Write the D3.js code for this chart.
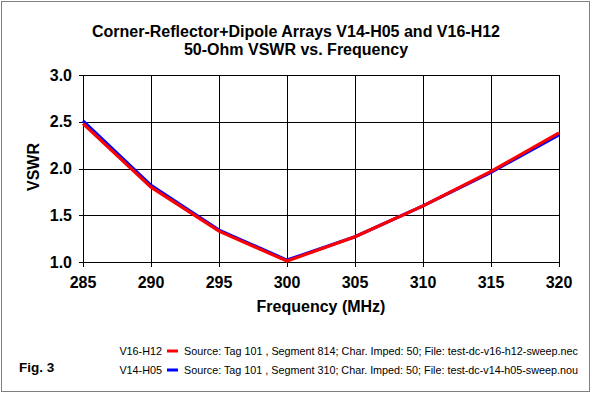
<!DOCTYPE html>
<html><head><meta charset="utf-8">
<script src="https://cdn.jsdelivr.net/npm/d3@7"></script>
<style>html,body{margin:0;padding:0;background:#fff;}svg{display:block;}</style>
</head><body>
<script>
const freqs = [285, 290, 295, 300, 305, 310, 315, 320];
const vswrV16H12 = [2.48, 1.80, 1.33, 1.01, 1.27, 1.60, 1.97, 2.38];
const vswrV14H05 = [2.51, 1.82, 1.34, 1.02, 1.27, 1.60, 1.96, 2.36];
const xTicks = [285, 290, 295, 300, 305, 310, 315, 320];
const yTicks = [1.0, 1.5, 2.0, 2.5, 3.0];
const titleLines = ["Corner-Reflector+Dipole Arrays V14-H05 and V16-H12", "50-Ohm VSWR vs. Frequency"];
const seriesNames = ["V16-H12", "V14-H05"];
const seriesColors = ["#ff0000", "#0000ff"];
const seriesSources = [
  "Source: Tag 101 , Segment 814; Char. Imped: 50; File: test-dc-v16-h12-sweep.nec",
  "Source: Tag 101 , Segment 310; Char. Imped: 50; File: test-dc-v14-h05-sweep.nou"
];

const W = 592, H = 394;
const svg = d3.select("body").append("svg").attr("width", W).attr("height", H)
  .style("font-family", "'Liberation Sans', Arial, sans-serif");
svg.append("rect").attr("x", 1.5).attr("y", 1.5).attr("width", W - 4).attr("height", H - 4)
  .attr("fill", "#fff").attr("stroke", "#000").attr("stroke-width", 1).attr("stroke-dasharray", "1,1");

const L = 83, R = 559, T = 75, B = 262;
const x = d3.scaleLinear().domain([285, 320]).range([L, R]);
const y = d3.scaleLinear().domain([1.0, 3.0]).range([B, T]);

// grid
const g = svg.append("g");
g.selectAll(".hg").data(yTicks).enter().append("line")
  .attr("x1", L - 4).attr("x2", R).attr("y1", d => Math.round(y(d)) + 0.5).attr("y2", d => Math.round(y(d)) + 0.5)
  .attr("stroke", "#000").attr("stroke-width", 1);
g.selectAll(".vg").data(xTicks).enter().append("line")
  .attr("x1", d => Math.round(x(d)) + 0.5).attr("x2", d => Math.round(x(d)) + 0.5)
  .attr("y1", T).attr("y2", B + 5)
  .attr("stroke", "#000").attr("stroke-width", 1);

// tick labels
svg.selectAll(".yl").data(yTicks).enter().append("text")
  .attr("x", 72).attr("y", d => y(d) + 5.5).attr("text-anchor", "end")
  .attr("font-weight", "bold").attr("font-size", 16).text(d => d.toFixed(1));
svg.selectAll(".xl").data(xTicks).enter().append("text")
  .attr("x", d => x(d)).attr("y", 288).attr("text-anchor", "middle")
  .attr("font-weight", "bold").attr("font-size", 16).text(d => d);

svg.append("text").attr("x", 321).attr("y", 312).attr("text-anchor", "middle")
  .attr("font-weight", "bold").attr("font-size", 16).text("Frequency (MHz)");
svg.append("text").attr("transform", "translate(39,167) rotate(-90)").attr("text-anchor", "middle")
  .attr("font-weight", "bold").attr("font-size", 16).text("VSWR");

// title
svg.selectAll(".tt").data(titleLines).enter().append("text")
  .attr("x", 296).attr("y", (d, i) => 37 + i * 18).attr("text-anchor", "middle")
  .attr("font-weight", "bold").attr("font-size", 16).text(d => d);

// lines
const line = d3.line().x((d, i) => x(freqs[i])).y(d => y(d));
[vswrV14H05, vswrV16H12].forEach((vals, k) => {
  svg.append("path").datum(vals).attr("d", line).attr("fill", "none")
    .attr("stroke", k === 0 ? seriesColors[1] : seriesColors[0]).attr("stroke-width", 3.2);
});

// legend
seriesNames.forEach((n, i) => {
  const cy = 351 + i * 19;
  svg.append("text").attr("x", 162).attr("y", cy + 4).attr("text-anchor", "end").attr("font-size", 10.8).text(n);
  svg.append("line").attr("x1", 167).attr("x2", 178).attr("y1", cy).attr("y2", cy)
    .attr("stroke", seriesColors[i]).attr("stroke-width", 3);
  svg.append("text").attr("x", 184).attr("y", cy + 4).attr("font-size", 10.8)
    .attr("textLength", 394).attr("lengthAdjust", "spacingAndGlyphs").text(seriesSources[i]);
});
svg.append("text").attr("x", 19).attr("y", 372).attr("font-weight", "bold").attr("font-size", 13.5).text("Fig. 3");
</script>
</body></html>
